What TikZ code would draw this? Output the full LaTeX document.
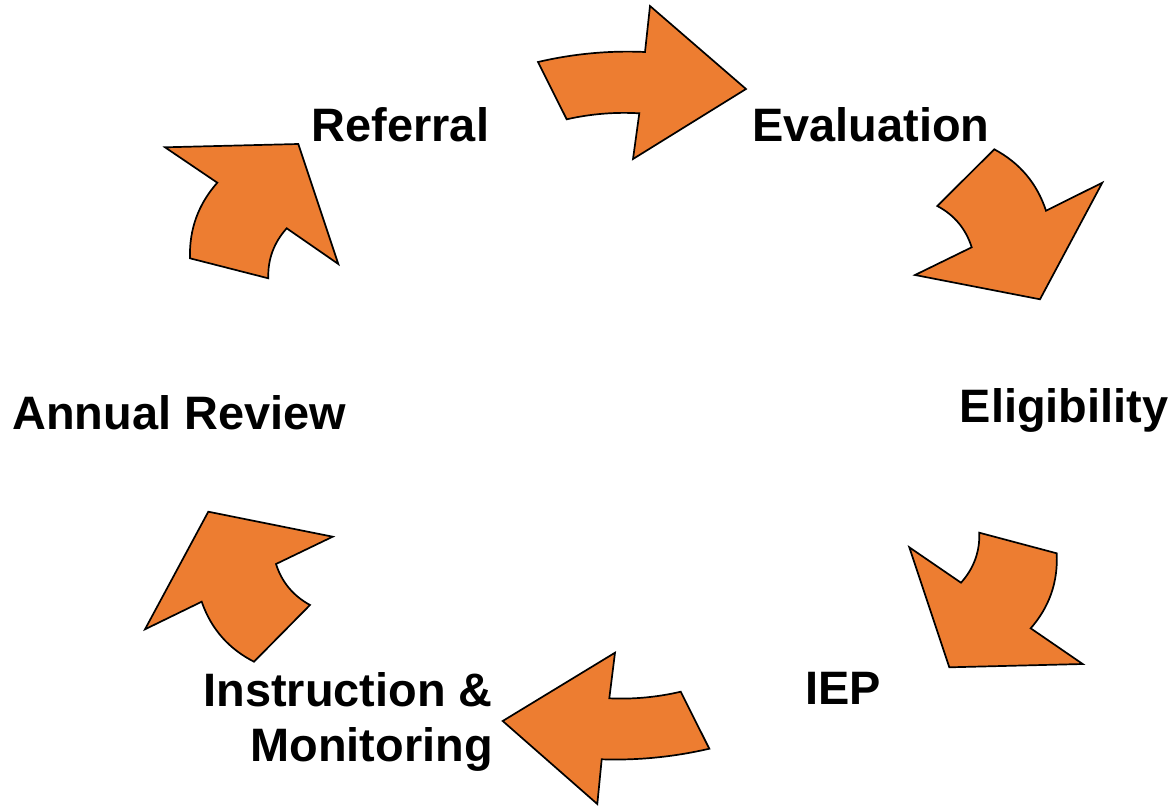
\documentclass[tikz,border=0pt]{standalone}
\usepackage{fontspec}
\setmainfont{Liberation Sans}
\definecolor{arroworange}{HTML}{ED7D31}
\begin{document}
\begin{tikzpicture}[x=1pt,y=-1pt,
  blockarrow/.style={draw=black,fill=arroworange,line width=1.7pt,line join=miter},
  stage/.style={anchor=base,inner sep=0pt,font=\fontsize{46.9}{55}\selectfont\bfseries}]
\useasboundingbox (0,0) rectangle (1175,806);

% curved block arrows running clockwise around the cycle
% Referral -> Evaluation
\draw[blockarrow] (538,62) .. controls (573.2,53.8) and (608.8,50.4) .. (645,52) -- (650,6) -- (746,89)
  -- (633,159) -- (639.3,113.3) .. controls (614.8,111.9) and (590.6,113.9) .. (566.7,119.3) -- cycle;
% Evaluation -> Eligibility
\draw[blockarrow] (994.3,149.3) .. controls (1019.7,162.9) and (1037,183.3) .. (1046,210.7) -- (1102.3,182.7)
  -- (1040,299.3) -- (915,275) -- (971.7,247.3) .. controls (965.8,228.8) and (954.4,215.1) .. (937.3,206) -- cycle;
% Eligibility -> IEP
\draw[blockarrow] (979.3,532.7) -- (1056.7,553.3) .. controls (1058.1,581.8) and (1049.5,606.8) .. (1030.7,628.3)
  -- (1082.7,664) -- (949.3,667.3) -- (909.3,547.3) -- (961,582.7)
  .. controls (973.8,568.4) and (979.9,551.8) .. cycle;
% IEP -> Instruction & Monitoring
\draw[blockarrow] (680.7,691.7) -- (709.3,748.7) .. controls (673.9,756.9) and (638.1,760.5) .. (601.7,759.3)
  -- (597.3,804) -- (502.7,721) -- (615,652.7) -- (609.3,698.3)
  .. controls (633.4,699.4) and (657.2,697.2) .. cycle;
% Instruction & Monitoring -> Annual Review
\draw[blockarrow] (208.3,511.7) -- (332.7,536.7) -- (276,564) .. controls (281.8,582.2) and (293.2,595.8) .. (310,605)
  -- (254,661.7) .. controls (228.5,648.7) and (211,628.7) .. (201.7,601.7) -- (145,629.3) -- cycle;
% Annual Review -> Referral
\draw[blockarrow] (165,147.3) -- (298.3,144) -- (338.3,264) -- (286.7,228.3)
  .. controls (273.9,242.6) and (267.7,259.2) .. (268.3,278.3) -- (190,258.3)
  .. controls (189.1,229.5) and (198.2,204.3) .. (217.3,182.7) -- cycle;

% stage labels
\node[stage] (referral) at (400.5,141) {Referral};
\node[stage] (evaluation) at (871,141) {Evaluation};
\node[stage] (eligibility) at (1064,422.7) {Eligibility};
\node[stage] (iep) at (843.3,704) {IEP};
\node[stage,anchor=base east] (instr) at (493,706.7) {Instruction \&};
\node[stage,anchor=base east] (monit) at (493,761.7) {Monitoring};
\node[stage] (review) at (179,429.3) {Annual Review};
\end{tikzpicture}
\end{document}
